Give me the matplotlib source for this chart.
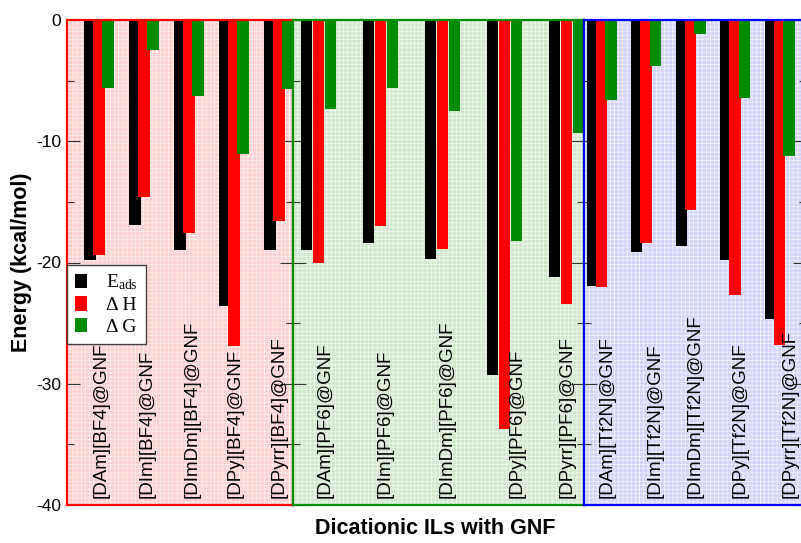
import matplotlib.pyplot as plt
from matplotlib.patches import Rectangle
from matplotlib.ticker import MultipleLocator

plt.rcParams['font.family'] = ['Liberation Sans', 'DejaVu Sans']
plt.rcParams['hatch.linewidth'] = 0.35
plt.rcParams['axes.unicode_minus'] = False

cations = ['[DAm]', '[DIm]', '[DImDm]', '[DPy]', '[DPyrr]']
anions = ['[BF4]', '[PF6]', '[Tf2N]']

# adsorption energy, enthalpy and free energy (kcal/mol), one list per anion
eads_bf4 = [-19.8, -16.9, -19.0, -23.6, -19.0]
dh_bf4 = [-19.4, -14.6, -17.6, -26.9, -16.6]
dg_bf4 = [-5.6, -2.5, -6.3, -11.05, -5.7]

eads_pf6 = [-18.95, -18.4, -19.7, -29.3, -21.2]
dh_pf6 = [-20.05, -17.0, -18.9, -33.7, -23.45]
dg_pf6 = [-7.3, -5.6, -7.5, -18.2, -9.35]

eads_tf2n = [-21.95, -19.1, -18.65, -19.8, -24.7]
dh_tf2n = [-22.0, -18.4, -15.7, -22.7, -26.8]
dg_tf2n = [-6.6, -3.8, -1.15, -6.4, -11.2]

panels = [
    dict(anion='[BF4]', eads=eads_bf4, dh=dh_bf4, dg=dg_bf4,
         left=67, width=226, xlim=(0.29, 5.31), bw=0.26, off=0.2,
         lab=[0.04, 0.07, 0.07, 0.03, 0.0],
         edge='#ff0000', face='#ffd0d0'),
    dict(anion='[PF6]', eads=eads_pf6, dh=dh_pf6, dg=dg_pf6,
         left=293, width=291, xlim=(0.589, 5.282), bw=0.177, off=0.194,
         lab=[0.1, 0.07, 0.07, 0.2, 0.01],
         edge='#009000', face='#d2e8cc'),
    dict(anion='[Tf2N]', eads=eads_tf2n, dh=dh_tf2n, dg=dg_tf2n,
         left=584, width=222.5, xlim=(0.604, 5.604), bw=0.254, off=0.21,
         lab=[0.12, 0.2, 0.1, 0.11, 0.24],
         edge='#0000ff', face='#d4d4fa'),
]

W, H = 801, 543
fig = plt.figure(figsize=(W / 100, H / 100), dpi=100)

x = list(range(1, 6))
axes = []
handles = None
for i, p in enumerate(panels):
    ax = fig.add_axes([p['left'] / W, 38 / H, p['width'] / W, 485 / H])
    axes.append(ax)
    ax.set_xlim(*p['xlim'])
    ax.set_ylim(-40, 0)

    # textured panel background
    ax.set_facecolor('white')
    ax.add_patch(Rectangle((0, 0), 1, 1, transform=ax.transAxes,
                           facecolor=p['face'], edgecolor='white',
                           hatch='++++', lw=0, zorder=0))

    b1 = ax.bar([v - p['off'] for v in x], p['eads'], width=p['bw'],
                color='black', zorder=2)
    b2 = ax.bar(x, p['dh'], width=p['bw'], color='#ff0000', zorder=2)
    b3 = ax.bar([v + p['off'] for v in x], p['dg'], width=p['bw'],
                color='#008b00', zorder=2)
    if handles is None:
        handles = [b1, b2, b3]

    for k, c in enumerate(cations):
        ax.text(x[k] + p['lab'][k], -39.45, c + p['anion'] + '@GNF',
                rotation=90, ha='center', va='bottom', fontsize=13.5,
                zorder=3)

    for s in ax.spines.values():
        s.set_color(p['edge'])
        s.set_linewidth(1.6)

    ax.yaxis.set_major_locator(MultipleLocator(10))
    ax.yaxis.set_minor_locator(MultipleLocator(5))
    ax.tick_params(axis='y', which='both', direction='in', left=True,
                   right=True, color='#333333', width=0.8,
                   labelsize=12.5, pad=4)
    ax.tick_params(axis='y', which='major', length=9.5)
    ax.tick_params(axis='y', which='minor', length=5)
    ax.tick_params(axis='x', bottom=False, labelbottom=False)
    if i > 0:
        ax.tick_params(axis='y', labelleft=False)

leg = axes[0].legend(
    handles, ['$\\mathregular{E_{ads}}$', '\u0394 H', '\u0394 G'],
    loc='upper left', bbox_to_anchor=(0, 0.495), borderaxespad=0,
    prop={'family': 'Liberation Serif', 'size': 14},
    handlelength=0.62, handleheight=0.75, handletextpad=1.0,
    labelspacing=0.2, borderpad=0.4, fancybox=False, framealpha=1)
leg.get_frame().set_edgecolor('#404040')
leg.get_frame().set_linewidth(1.0)
leg.set_zorder(5)

fig.text(22 / W, 1 - 262 / H, 'Energy (kcal/mol)', rotation=90,
         ha='center', va='center', fontsize=15.5, fontweight='bold')
fig.text(435 / W, 1 - 528 / H, 'Dicationic ILs with GNF',
         ha='center', va='center', fontsize=15.5, fontweight='bold')

fig.savefig('out.png', dpi=100)
